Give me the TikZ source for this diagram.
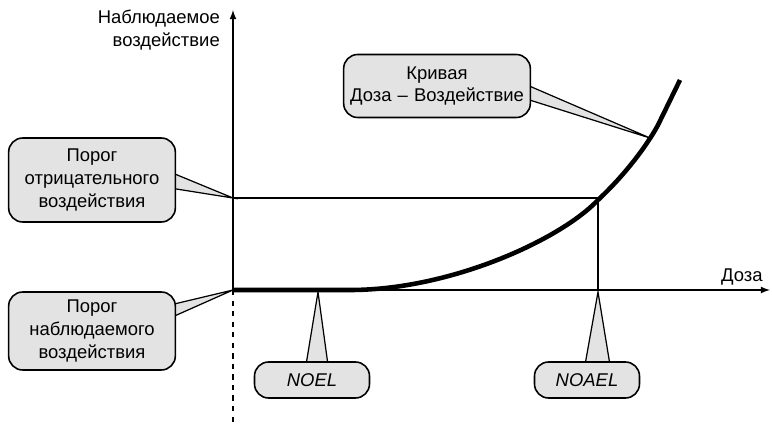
\documentclass[tikz,border=0pt]{standalone}
\usepackage{fontspec}
\setmainfont{Liberation Sans}
\begin{document}
\begin{tikzpicture}[x=0.02cm,y=-0.02cm,
  box/.style={draw,line width=0.9pt,rounded corners=8pt,fill=gray!22,align=center,font=\fontsize{10.5}{13}\selectfont},
  wedge/.style={draw,line width=0.7pt,fill=gray!22,line join=miter},
  ax/.style={line width=0.8pt}]
\useasboundingbox (0,0) rectangle (772,436);
% axes
\draw[ax,-latex] (233,290) -- (233,10);
\draw[ax,dashed] (233,290) -- (233,425);
\draw[ax,-latex] (233,290) -- (770,290);
\node[align=right,anchor=east,font=\fontsize{10.5}{13}\selectfont] (yl) at (226,30) {Наблюдаемое\\воздействие};
\node[anchor=west,font=\fontsize{10.5}{13}\selectfont] (xl) at (715,277) {Доза};
% curve
\draw[line width=2.6pt] (233,290) -- (350,290) .. controls (450,290) and (560,240) .. (598,200) .. controls (630,170) and (650,140) .. (658,125) -- (680,80);
\coordinate (p1) at (598,198);
\coordinate (p0) at (233,198);
\coordinate (q1) at (598,290);
\draw[line width=0.6pt] (p0) -- (p1) -- (q1);
% callouts
\draw[wedge] (170,172) -- (233,198) -- (170,188);
\node[box,text width=3.1cm,minimum height=1.68cm] (b1) at (92,180) {Порог\\отрицательного\\воздействия};
\draw[wedge] (170,305) -- (233,290) -- (170,318);
\node[box,text width=3.1cm,minimum height=1.56cm] (b2) at (92,331) {Порог\\наблюдаемого\\воздействия};
\draw[wedge] (520,82) -- (650,138) -- (520,97);
\node[box,text width=3.5cm,minimum height=1.26cm] (b3) at (437,86) {Кривая\\Доза~–~Воздействие};
\draw[wedge] (306,365) -- (318,292) -- (328,365);
\node[box,minimum width=2.3cm,minimum height=0.72cm,font=\itshape\fontsize{10.5}{13}\selectfont] (n1) at (312,380) {NOEL};
\draw[wedge] (585,365) -- (598,292) -- (610,365);
\node[box,minimum width=2.1cm,minimum height=0.72cm,font=\itshape\fontsize{10.5}{13}\selectfont] (n2) at (587,380) {NOAEL};
\end{tikzpicture}
\end{document}
